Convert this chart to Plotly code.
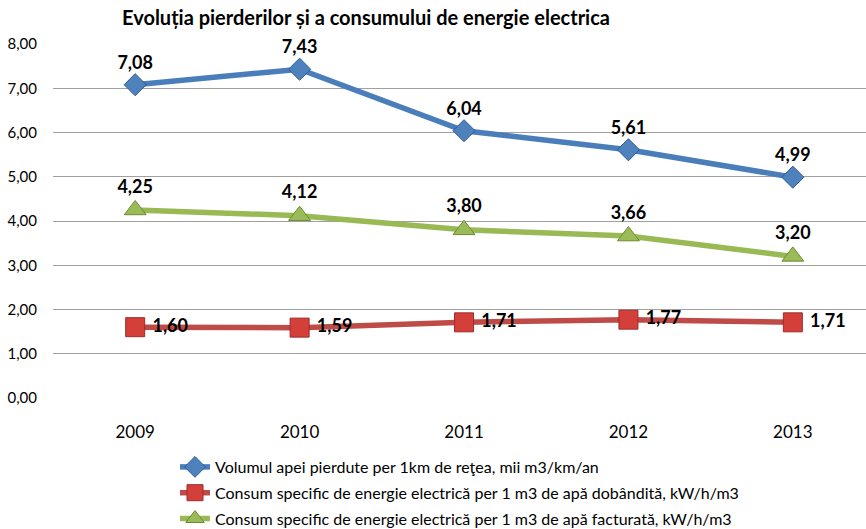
import plotly.graph_objects as go

years = ["2009", "2010", "2011", "2012", "2013"]
volum = [7.08, 7.43, 6.04, 5.61, 4.99]
consum_dob = [1.60, 1.59, 1.71, 1.77, 1.71]
consum_fact = [4.25, 4.12, 3.80, 3.66, 3.20]
names = [
    "Volumul apei pierdute per 1km de reţea, mii m3/km/an",
    "Consum specific de energie electrică per 1 m3 de apă dobândită, kW/h/m3",
    "Consum specific de energie electrică per 1 m3 de apă facturată, kW/h/m3",
]
title = "Evoluția pierderilor și a consumului de energie electrica"
yticks = [0, 1, 2, 3, 4, 5, 6, 7, 8]

def fmt(v):
    return f"{v:.2f}".replace(".", ",")

FONT = "Lato, 'Open Sans', sans-serif"
lbl_font = dict(family=FONT, size=18, color="black", weight="bold")

fig = go.Figure()
fig.add_trace(go.Scatter(
    x=list(range(len(years))), y=volum, name=names[0], mode="lines+markers+text", legendgroup="a",
    line=dict(color="#4A7EBB", width=5.5),
    marker=dict(symbol="diamond", size=17, color="#4F81BD", line=dict(color="#2C5C94", width=1)),
    text=[fmt(v) for v in volum], textposition="top center", textfont=lbl_font, cliponaxis=False,
))
fig.add_trace(go.Scatter(
    x=list(range(len(years))), y=consum_dob, name=names[1], mode="lines+markers+text", legendgroup="b",
    line=dict(color="#BE4B48", width=5.5),
    marker=dict(symbol="square", size=19, color="#D43F3A", line=dict(color="#9B2D2A", width=1)),
    text=[" " + fmt(v) for v in consum_dob], textposition="middle right", textfont=lbl_font, cliponaxis=False,
))
fig.add_trace(go.Scatter(
    x=list(range(len(years))), y=consum_fact, name=names[2], mode="lines+markers+text", legendgroup="c",
    line=dict(color="#98B954", width=5.5),
    marker=dict(symbol="triangle-up", size=19, color="#9BBB59", line=dict(color="#6E8B33", width=1)),
    text=[fmt(v) for v in consum_fact], textposition="top center", textfont=lbl_font, cliponaxis=False,
))

fig.update_layout(
    width=866, height=529,
    margin=dict(l=53, r=0, t=44, b=131, autoexpand=False),
    paper_bgcolor="white", plot_bgcolor="white",
    font=dict(family=FONT, size=14, color="black"),
    title=dict(text="<b>" + title + "</b>", x=366/866, xanchor="center", y=1 - 18/529, yanchor="middle",
               font=dict(family=FONT, size=20, color="black")),
    showlegend=True,
    legend=dict(x=(175-53)/813, y=(398-450)/354, xanchor="left", yanchor="top",
                orientation="v", font=dict(family=FONT, size=16), tracegroupgap=2,
                bgcolor="rgba(0,0,0,0)", itemwidth=30),
    xaxis=dict(range=[-0.5, 4.445], tickmode="array", tickvals=list(range(len(years))), ticktext=years,
               showgrid=False, zeroline=False, showline=False, ticks="", ticklabelstandoff=22,
               automargin=False, tickfont=dict(family=FONT, size=17)),
    yaxis=dict(range=[0, 8], tickmode="array", tickvals=yticks, ticktext=[fmt(v) for v in yticks],
               showgrid=True, gridcolor="#A0A0A0", gridwidth=1, zeroline=False, showline=False,
               automargin=False, ticks="", tickfont=dict(family=FONT, size=15), ticklabelstandoff=15),
)
fig.write_html("out.html", config={"displayModeBar": False},
               post_script="document.body.style.margin='0px';document.body.style.overflow='hidden';")
